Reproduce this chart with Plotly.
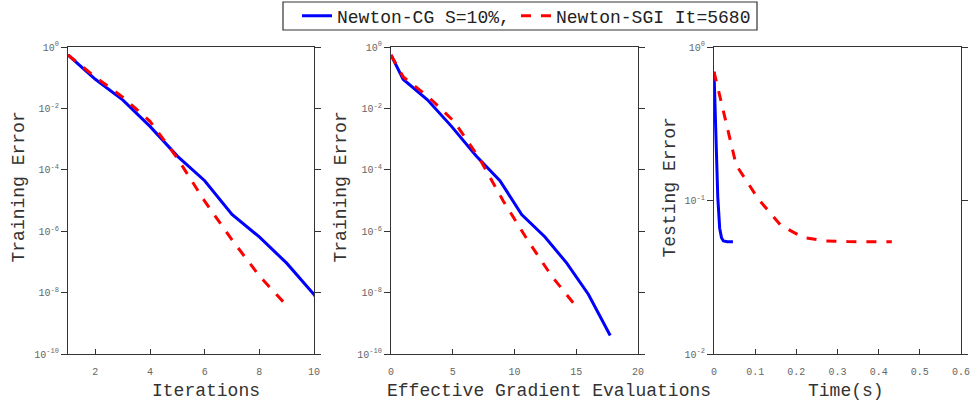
import plotly.graph_objects as go

# ---------------- data ----------------
iters_cg = [1, 2, 3, 4, 5, 6, 7, 8, 9, 10, 11]
train_cg = [0.55, 0.089, 0.019, 0.0026, 2.8e-4, 4.4e-5, 3.5e-6, 6.5e-7, 9.1e-8, 8.7e-9, 4.0e-10]
evals_cg = [0, 0.98, 2.95, 4.9, 6.9, 8.82, 10.58, 12.47, 14.23, 15.99, 17.75]
time_cg = [0, 0.0046, 0.0092, 0.0138, 0.0184, 0.023, 0.0276, 0.0322, 0.0368, 0.0414, 0.046]
test_cg = [0.69, 0.25, 0.105, 0.066, 0.057, 0.0545, 0.054, 0.0538, 0.0538, 0.0538, 0.0538]

iters_sgi = [1, 2, 3, 4, 5, 6, 7, 8, 9]
train_sgi = [0.55, 0.105, 0.0234, 0.0038, 2.4e-4, 9.5e-6, 5.2e-7, 3.5e-8, 3.8e-9]
evals_sgi = [0, 1.0, 3.05, 5.1, 7.15, 9.1, 11.05, 13.0, 14.93]
time_sgi = [0, 0.054, 0.108, 0.162, 0.216, 0.27, 0.324, 0.378, 0.432]
test_sgi = [0.69, 0.17, 0.102, 0.069, 0.0575, 0.0545, 0.054, 0.0538, 0.0538]

name_cg = "Newton-CG S=10%,"
name_sgi = "Newton-SGI It=5680"

x1_ticks = [2, 4, 6, 8, 10]
x2_ticks = [0, 5, 10, 15, 20]
x3_ticks = [0, 0.1, 0.2, 0.3, 0.4, 0.5, 0.6]
x3_ticktext = ["0", "0.1", "0.2", "0.3", "0.4", "0.5", "0.6"]
y12_ticks = [1e-10, 1e-8, 1e-6, 1e-4, 1e-2, 1e0]
y12_ticktext = ["10<sup>-10</sup>", "10<sup>-8</sup>", "10<sup>-6</sup>", "10<sup>-4</sup>",
                "10<sup>-2</sup>", "10<sup>0</sup>"]
y3_ticks = [1e-2, 1e-1, 1e0]
y3_ticktext = ["10<sup>-2</sup>", "10<sup>-1</sup>", "10<sup>0</sup>"]

x_titles = ["Iterations", "Effective Gradient Evaluations", "Time(s)"]
y_titles = ["Training Error", "Training Error", "Testing Error"]

# ---------------- style ----------------
W, H = 973, 407
FONT = "Liberation Mono"
BLUE = "#0000ff"
RED = "#ff0000"
FRAME = "#333333"
TICKC = "#666666"
TITLEC = "#333333"

def px_x(p):
    return p / W

def px_y(p):
    return 1 - p / H

dom_x = [[px_x(68), px_x(314)], [px_x(391), px_x(638)], [px_x(714), px_x(961)]]
dom_y = [px_y(354), px_y(47)]

fig = go.Figure()

line_cg = dict(color=BLUE, width=3)
line_sgi = dict(color=RED, width=3, dash="10px,10px")

fig.add_trace(go.Scatter(x=iters_cg, y=train_cg, mode="lines", line=line_cg, name=name_cg,
                         xaxis="x", yaxis="y", legendgroup="cg", legendwidth=174))
fig.add_trace(go.Scatter(x=iters_sgi, y=train_sgi, mode="lines", line=line_sgi, name=name_sgi,
                         xaxis="x", yaxis="y", legendgroup="sgi"))
fig.add_trace(go.Scatter(x=evals_cg, y=train_cg, mode="lines", line=line_cg, name=name_cg,
                         xaxis="x2", yaxis="y2", legendgroup="cg", showlegend=False))
fig.add_trace(go.Scatter(x=evals_sgi, y=train_sgi, mode="lines", line=line_sgi, name=name_sgi,
                         xaxis="x2", yaxis="y2", legendgroup="sgi", showlegend=False))
fig.add_trace(go.Scatter(x=time_cg, y=test_cg, mode="lines", line=line_cg, name=name_cg,
                         xaxis="x3", yaxis="y3", legendgroup="cg", showlegend=False))
fig.add_trace(go.Scatter(x=time_sgi, y=test_sgi, mode="lines", line=line_sgi, name=name_sgi,
                         xaxis="x3", yaxis="y3", legendgroup="sgi", showlegend=False))

tickfont = dict(family=FONT, size=10, color=TICKC)

def xaxis(i, rng, tv, tt=None):
    d = dict(domain=dom_x[i], range=rng, anchor="y" if i == 0 else f"y{i+1}",
             tickmode="array", tickvals=tv, showgrid=False, zeroline=False,
             showline=True, linecolor=FRAME, linewidth=1.3, mirror=True,
             ticks="inside", ticklen=5, tickcolor=FRAME, tickwidth=1.2,
             tickfont=tickfont, ticklabelstandoff=8)
    if tt is not None:
        d["ticktext"] = tt
    return d

def xtop(i, rng, tv):
    return dict(domain=dom_x[i], range=rng, anchor="y" if i == 0 else f"y{i+1}",
                overlaying="x" if i == 0 else f"x{i+1}", side="top",
                tickmode="array", tickvals=tv, showgrid=False, zeroline=False,
                showline=True, linecolor=FRAME, linewidth=1.3,
                ticks="outside", ticklen=6, tickcolor=FRAME, tickwidth=1.2,
                showticklabels=False)

def yaxis(i, rng, tv, tt):
    return dict(domain=dom_y, type="log", range=rng, anchor="x" if i == 0 else f"x{i+1}",
                tickmode="array", tickvals=tv, ticktext=tt, showgrid=False, zeroline=False,
                showline=True, linecolor=FRAME, linewidth=1.3, mirror="ticks",
                ticks="outside", ticklen=6, tickcolor=FRAME, tickwidth=1.2,
                tickfont=tickfont)

fig.update_layout(
    width=W, height=H, autosize=False,
    margin=dict(l=0, r=0, t=0, b=0, autoexpand=False),
    paper_bgcolor="white", plot_bgcolor="white",
    font=dict(family=FONT, color=TITLEC),
    xaxis=xaxis(0, [1, 10], x1_ticks),
    xaxis2=xaxis(1, [0, 20], x2_ticks),
    xaxis3=xaxis(2, [0, 0.6], x3_ticks, x3_ticktext),
    xaxis4=xtop(0, [1, 10], x1_ticks),
    xaxis5=xtop(1, [0, 20], x2_ticks),
    xaxis6=xtop(2, [0, 0.6], x3_ticks),
    yaxis=yaxis(0, [-10, 0], y12_ticks, y12_ticktext),
    yaxis2=yaxis(1, [-10, 0], y12_ticks, y12_ticktext),
    yaxis3=yaxis(2, [-2, 0], y3_ticks, y3_ticktext),
    legend=dict(orientation="h", x=px_x(297), xanchor="left", y=px_y(16), yanchor="middle",
                bgcolor="rgba(0,0,0,0)", borderwidth=0,
                font=dict(family=FONT, size=18, color="#222222"),
                itemwidth=30, tracegroupgap=0),
    showlegend=True,
)

# legend frame
fig.add_shape(type="rect", xref="paper", yref="paper",
              x0=px_x(283), x1=px_x(757), y0=px_y(30), y1=px_y(2),
              line=dict(color=FRAME, width=1.2), fillcolor="rgba(0,0,0,0)", layer="below")

x_title_left = [150, 385, 806]
for t, xl in zip(x_titles, x_title_left):
    fig.add_annotation(text=t, x=px_x(xl), y=px_y(391), xref="paper", yref="paper",
                       xanchor="left", yanchor="middle", showarrow=False,
                       font=dict(family=FONT, size=18, color=TITLEC))

y_title_x = [18, 340, 669]
for t, xc in zip(y_titles, y_title_x):
    fig.add_annotation(text=t, x=px_x(xc), y=px_y(187.5), xref="paper", yref="paper",
                       xanchor="center", yanchor="middle", textangle=-90, showarrow=False,
                       font=dict(family=FONT, size=18, color=TITLEC))

fig.write_html("out.html", config={"displayModeBar": False},
               post_script="document.body.style.margin='0px';document.body.style.padding='0px';")
